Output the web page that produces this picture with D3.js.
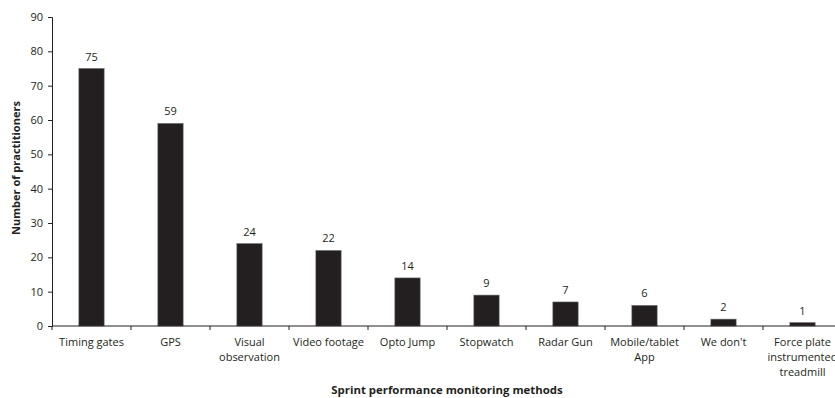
<!DOCTYPE html>
<html><head><meta charset="utf-8">
<script src="https://cdn.jsdelivr.net/npm/d3@7"></script>
<style>body{margin:0;background:#fff}svg{display:block}text{font-family:"Open Sans",sans-serif;fill:#231f20}</style>
</head><body><svg id="c" width="835" height="398"></svg>
<script>
const categories = ["Timing gates","GPS","Visual\nobservation","Video footage","Opto Jump","Stopwatch","Radar Gun","Mobile/tablet\nApp","We don't","Force plate\ninstrumented\ntreadmill"];
const values = [75,59,24,22,14,9,7,6,2,1];
const yTicks = [0,10,20,30,40,50,60,70,80,90];
const xTitle = "Sprint performance monitoring methods";
const yTitle = "Number of practitioners";

const svg = d3.select("#c");
const x = d3.scaleBand().domain(categories).range([52,842]).paddingInner(0.68).paddingOuter(0.34);
const y = d3.scaleLinear().domain([0,90]).range([326,17]);
const ink = "#231f20";

// bars
svg.selectAll("rect.bar").data(values).join("rect")
  .attr("x",(d,i)=>x(categories[i])).attr("width",x.bandwidth())
  .attr("y",d=>y(d)).attr("height",d=>y(0)-y(d))
  .attr("fill",ink).attr("stroke","#6d6a6b").attr("stroke-width",0.6);

// value labels
svg.selectAll("text.val").data(values).join("text")
  .attr("x",(d,i)=>x(categories[i])+x.bandwidth()/2).attr("y",d=>y(d)-8)
  .attr("text-anchor","middle").attr("font-size","11px").text(d=>d);

// y axis
const ya = svg.append("g").attr("transform","translate(52,0)")
  .call(d3.axisLeft(y).tickValues(yTicks).tickSize(4).tickPadding(5));
ya.selectAll("text").attr("font-size","11px").attr("font-family","Open Sans").attr("fill",ink);
ya.selectAll("line,path").attr("stroke",ink);

// x axis
const full = d3.scaleLinear().domain([0,categories.length]).range([52,842]);
const xa = svg.append("g");
xa.append("line").attr("x1",52).attr("x2",842).attr("y1",y(0)).attr("y2",y(0)).attr("stroke",ink);
xa.selectAll("line.t").data(d3.range(categories.length+1)).join("line")
  .attr("x1",d=>full(d)).attr("x2",d=>full(d)).attr("y1",y(0)).attr("y2",y(0)+4).attr("stroke",ink);
const lbl = xa.selectAll("text.cat").data(categories).join("text")
  .attr("text-anchor","middle").attr("font-size","11px")
  .attr("transform",d=>`translate(${x(d)+x.bandwidth()/2},346)`);
lbl.selectAll("tspan").data(d=>d.split("\n")).join("tspan")
  .attr("x",0).attr("dy",(d,i)=>i?15:0).text(d=>d);

// titles
svg.append("text").attr("x",447).attr("y",394).attr("text-anchor","middle")
  .attr("font-size","11.4px").attr("font-weight","bold").text(xTitle);
svg.append("text").attr("transform","translate(20,168) rotate(-90)").attr("text-anchor","middle")
  .attr("font-size","11px").attr("font-weight","bold").text(yTitle);
</script></body></html>
